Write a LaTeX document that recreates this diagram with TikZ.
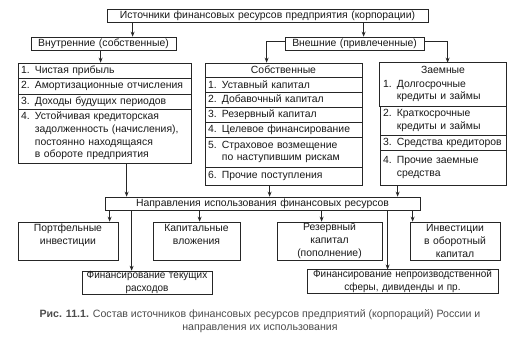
\documentclass[tikz,border=0pt]{standalone}
\usepackage{fontspec}
\setmainfont{Liberation Sans}
\newfontfamily\narrowfont[FakeStretch=0.96]{Liberation Sans}
\usetikzlibrary{arrows.meta,calc}
\newcommand\fs{\fontsize{10.4}{12.8}\selectfont}
\newcommand\bxat[7]{%
  \pgfmathsetmacro\bxw{#5-#3}%
  \pgfmathsetmacro\bxh{#6-#4}%
  \pgfmathsetmacro\bxtw{#5-#3-6}%
  \pgfmathsetmacro\bxcx{(#3+#5)/2}%
  \pgfmathsetmacro\bxcy{(#4+#6)/2}%
  \node[#1, minimum width=\bxw pt, minimum height=\bxh pt, text width=\bxtw pt] (#2) at (\bxcx,\bxcy) {#7};%
}
\tikzset{
  bx/.style={draw=black!85, line width=0.75pt, inner xsep=2.5pt, inner ysep=0.3pt, font=\fs, text=black!90},
  lbx/.style={bx, align=left},
  cbx/.style={bx, align=center},
  nbx/.style={cbx, inner xsep=0pt, font=\narrowfont\fs},
  arr/.style={draw=black!85, line width=0.75pt, -{Stealth[length=5pt,width=4pt]}},
  ln/.style={draw=black!85, line width=0.75pt},
}
\begin{document}
\begin{tikzpicture}[x=1pt,y=-1pt]
\fill[white] (0,0) rectangle (520,344);
\useasboundingbox (0,0) rectangle (520,344);
% top level
\bxat{cbx}{top}{107}{9}{428}{22}{Источники финансовых ресурсов предприятия (корпорации)}
\bxat{cbx}{intl}{31}{37}{176}{50}{Внутренние (собственные)}
\bxat{cbx}{ext}{285}{37}{424}{50}{Внешние (привлеченные)}
% internal list
\bxat{lbx}{L1}{18}{63}{191}{78}{1. Чистая прибыль}
\bxat{lbx}{L2}{18}{78}{191}{94}{2. Амортизационные отчисления}
\bxat{lbx}{L3}{18}{94}{191}{109}{3. Доходы будущих периодов}
\bxat{lbx}{L4}{18}{109}{191}{163}{4. Устойчивая кредиторская\\\phantom{4. }задолженность (начисления),\\\phantom{4. }постоянно находящаяся\\\phantom{4. }в обороте предприятия}
% own external
\bxat{cbx}{S0}{205}{63}{362}{77}{Собственные}
\bxat{lbx}{S1}{205}{77}{362}{92}{1. Уставный капитал}
\bxat{lbx}{S2}{205}{92}{362}{107}{2. Добавочный капитал}
\bxat{lbx}{S3}{205}{107}{362}{122}{3. Резервный капитал}
\bxat{lbx}{S4}{205}{122}{362}{137}{4. Целевое финансирование}
\bxat{lbx}{S5}{205}{137}{362}{167}{5. Страховое возмещение\\\phantom{5. }по наступившим рискам}
\bxat{lbx}{S6}{205}{167}{362}{185}{6. Прочие поступления}
% borrowed
\bxat{cbx, draw=none}{Z0}{380}{63}{506}{76}{Заемные}
\bxat{lbx, draw=none}{Z1}{380}{76}{506}{106}{1. Долгосрочные\\\phantom{1. }кредиты и займы}
\draw[ln] (Z0.north west) rectangle (Z1.south east);
\bxat{lbx}{Z2}{380}{106}{506}{135}{2. Краткосрочные\\\phantom{2. }кредиты и займы}
\bxat{lbx}{Z3}{380}{135}{506}{150}{3. Средства кредиторов}
\bxat{lbx}{Z4}{380}{150}{506}{185}{4. Прочие заемные\\\phantom{4. }средства}
% directions
\bxat{cbx}{N}{105}{197}{420}{210}{Направления использования финансовых ресурсов}
\bxat{cbx}{P}{18}{222}{118}{260}{Портфельные\\инвестиции\\\mbox{}}
\bxat{cbx}{K}{153}{222}{240}{260}{Капитальные\\вложения\\\mbox{}}
\bxat{cbx}{R}{277}{222}{382}{260}{Резервный\\капитал\\(пополнение)}
\bxat{cbx}{I}{410}{222}{500}{260}{Инвестиции\\в оборотный\\капитал}
\bxat{nbx}{FT}{82}{272}{212}{293}{Финансирование текущих\\расходов}
\bxat{nbx}{FN}{307}{270}{498}{293}{Финансирование непроизводственной\\сферы, дивиденды и пр.}
% connectors
\draw[arr] ([xshift=26pt]top.south west) -- ([xshift=26pt]top.south west |- intl.north);
\draw[arr] ([xshift=257pt]top.south west) -- ([xshift=257pt]top.south west |- ext.north);
\draw[arr] ([xshift=70pt]intl.south west) -- ([xshift=70pt]intl.south west |- L1.north);
\draw[arr] ([yshift=2.5pt]ext.west) -| ([xshift=62pt]S0.north west);
\draw[arr] ([yshift=2.5pt]ext.east) -| ([xshift=68pt]Z0.north west);
\draw[arr] ([xshift=109pt]L4.south west) -- ([xshift=109pt]L4.south west |- N.north);
\draw[arr] ([xshift=65pt]S6.south west) -- ([xshift=65pt]S6.south west |- N.north);
\draw[arr] ([xshift=18pt]Z4.south west) -- ([xshift=18pt]Z4.south west |- N.north);
\draw[arr] ([xshift=5pt]N.south west) -- ([xshift=5pt]N.south west |- P.north);
\draw[arr] ([xshift=27pt]N.south west) -- ([xshift=27pt]N.south west |- FT.north);
\draw[arr] ([xshift=95pt]N.south west) -- ([xshift=95pt]N.south west |- K.north);
\draw[arr] ([xshift=217pt]N.south west) -- ([xshift=217pt]N.south west |- R.north);
\draw[arr] ([xshift=283pt]N.south west) -- ([xshift=283pt]N.south west |- FN.north);
\draw[arr] ([xshift=308pt]N.south west) -- ([xshift=308pt]N.south west |- I.north);
% caption
\node[font=\fontsize{10.6}{12.8}\selectfont, text=black!70, align=center, inner sep=0pt] (cap) at (260,321) {\textbf{Рис. 11.1.} Состав источников финансовых ресурсов предприятий (корпораций) России и\\направления их использования};
\end{tikzpicture}
\end{document}
